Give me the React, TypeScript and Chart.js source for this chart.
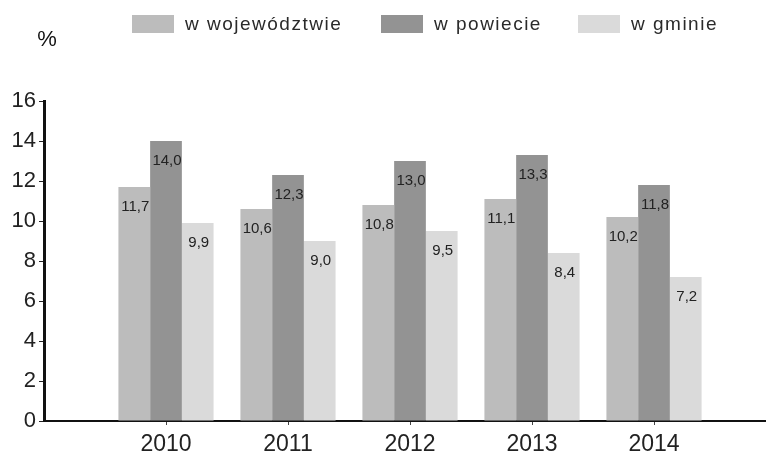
import React, { useEffect, useRef } from "react";
import { Chart, registerables } from "chart.js";

Chart.register(...registerables);

const categories = ["2010", "2011", "2012", "2013", "2014"];
const seriesNames = ["w województwie", "w powiecie", "w gminie"];
const wojewodztwo = [11.7, 10.6, 10.8, 11.1, 10.2];
const powiat = [14.0, 12.3, 13.0, 13.3, 11.8];
const gmina = [9.9, 9.0, 9.5, 8.4, 7.2];
const yTicks = [0, 2, 4, 6, 8, 10, 12, 14, 16];
const colors = ["#bcbcbc", "#939393", "#dadada"];
const FONT = "'Liberation Sans', Arial, sans-serif";

const fmt = (v: number) => v.toFixed(1).replace(".", ",");

const overlayPlugin = {
  id: "overlay",
  afterDatasetsDraw(chart: any) {
    const ctx = chart.ctx;
    ctx.save();
    ctx.font = `15px ${FONT}`;
    ctx.fillStyle = "#222";
    ctx.textAlign = "center";
    ctx.textBaseline = "middle";
    chart.data.datasets.forEach((ds: any, di: number) => {
      const meta = chart.getDatasetMeta(di);
      meta.data.forEach((bar: any, i: number) => {
        const v = ds.data[i].y;
        ctx.fillText(fmt(v), bar.x + 1, bar.y + 20);
      });
    });
    ctx.font = `22px ${FONT}`;
    ctx.fillStyle = "#111";
    ctx.textAlign = "center";
    ctx.fillText("%", 47, 40);
    const boxes = [132, 381, 578];
    ctx.font = `19px ${FONT}`;
    ctx.textAlign = "left";
    try {
      (ctx as any).letterSpacing = "1.5px";
    } catch (e) {}
    chart.data.datasets.forEach((ds: any, di: number) => {
      const x = boxes[di];
      ctx.fillStyle = ds.backgroundColor;
      ctx.fillRect(x, 15, 42, 18);
      ctx.fillStyle = "#2a2a2a";
      ctx.fillText(ds.label, x + 53, 25);
    });
    try {
      (ctx as any).letterSpacing = "0px";
    } catch (e) {}
    ctx.restore();
  },
};

export default function App() {
  const ref = useRef<HTMLCanvasElement>(null);
  useEffect(() => {
    document.body.style.margin = "0";
    const seriesData = [wojewodztwo, powiat, gmina];
    const chart = new Chart(ref.current!, {
      type: "bar",
      data: {
        datasets: seriesNames.map((name, si) => ({
          label: name,
          data: categories.map((c, i) => ({ x: Number(c), y: seriesData[si][i] })),
          backgroundColor: colors[si],
          borderWidth: 0,
          categoryPercentage: 0.78,
          barPercentage: 1.0,
        })),
      },
      options: {
        responsive: false,
        devicePixelRatio: 1,
        animation: false,
        layout: { padding: { top: 101, left: 0, right: 0, bottom: 0 } },
        plugins: { legend: { display: false }, tooltip: { enabled: false } },
        scales: {
          x: {
            type: "linear",
            offset: false,
            min: Number(categories[0]) - 1,
            max: Number(categories[categories.length - 1]) + 0.918,
            afterBuildTicks: (scale: any) => {
              scale.ticks = categories.map((c) => ({ value: Number(c) }));
            },
            afterFit: (scale: any) => {
              scale.height = 38;
            },
            ticks: {
              callback: (v: any) => String(v),
              font: { family: FONT, size: 23 },
              color: "#222",
              padding: 6,
              autoSkip: false,
              maxRotation: 0,
            },
            grid: { drawOnChartArea: false, offset: false, tickLength: 4, color: "#444" },
            border: { color: "#111", width: 2 },
          },
          y: {
            min: 0,
            max: 16,
            afterBuildTicks: (scale: any) => {
              scale.ticks = yTicks.map((v) => ({ value: v }));
            },
            afterFit: (scale: any) => {
              scale.width = 44;
            },
            ticks: {
              font: { family: FONT, size: 22 },
              color: "#222",
              padding: 3,
            },
            grid: { drawOnChartArea: false, tickLength: 5, color: "#222" },
            border: { color: "#111", width: 3 },
          },
        },
      },
      plugins: [overlayPlugin],
    } as any);
    return () => chart.destroy();
  }, []);
  return (
    <canvas
      ref={ref}
      width={766}
      height={459}
      style={{ display: "block", width: 766, height: 459 }}
    />
  );
}
